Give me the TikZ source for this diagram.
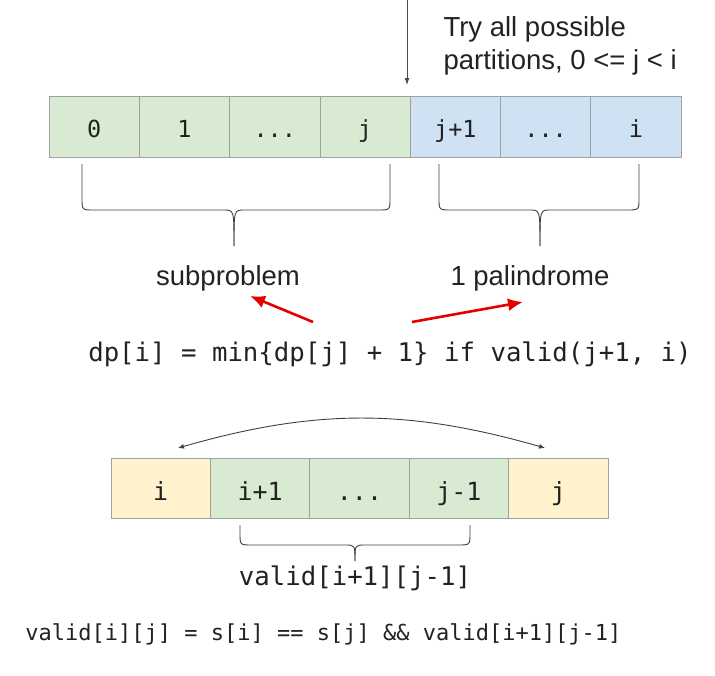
\documentclass[tikz,border=0pt]{standalone}
\usepackage{fontspec}
\setmainfont{Liberation Sans}
\setmonofont{DejaVu Sans Mono}
\usetikzlibrary{arrows.meta,positioning}

\definecolor{cellgreen}{HTML}{D9EAD3}
\definecolor{cellblue}{HTML}{CFE2F3}
\definecolor{cellyellow}{HTML}{FFF2CC}
\definecolor{cellline}{HTML}{A0A0A0}
\definecolor{ink}{HTML}{222222}

\newcommand{\celldots}{...}
% curly brace: x left, x right, x tip, y top, y middle, y tip
\newcommand{\curlybrace}[6]{%
	\draw[bracestyle] (#1,#4) -- (#1,{#5-12}) .. controls (#1,#5) .. ({#1+12},#5) -- ({#3-10},#5) .. controls (#3,#5) .. (#3,#6);
	\draw[bracestyle] (#2,#4) -- (#2,{#5-12}) .. controls (#2,#5) .. ({#2-12},#5) -- ({#3+10},#5) .. controls (#3,#5) .. (#3,#6);
}

\tikzset{
	cell/.style={draw=cellline, line width=0.8pt, minimum width=90.3pt, minimum height=61pt, inner sep=0pt, text height=22pt, text depth=0pt, text=ink, font=\fontsize{23.5}{24}\selectfont\ttfamily},
	lowcell/.style={cell, minimum width=99.4pt, minimum height=60pt, text height=24pt, font=\fontsize{25}{25}\selectfont\ttfamily},
	bracestyle/.style={draw=black!75, line width=0.9pt},
	sanstext/.style={text=ink, font=\fontsize{27.5}{33}\selectfont},
	monotext/.style={text=ink, font=\fontsize{25.7}{30}\selectfont\ttfamily},
	redarrow/.style={draw=red!90!black, line width=2.6pt, -{Latex[length=15pt,width=13pt]}},
}

\begin{document}
\begin{tikzpicture}[x=1pt,y=-1pt]
\useasboundingbox (0,0) rectangle (715,675);

% top row
\foreach \lab/\col [count=\k] in {0/cellgreen,1/cellgreen,\celldots/cellgreen,j/cellgreen,j+1/cellblue,\celldots/cellblue,i/cellblue} {%
	\node (top\k) [cell, fill=\col] at (3.85+90.3*\k,126.5) {\lab};
}

\coordinate (cuttop) at (407,0);
\coordinate (cutend) at (407,85);
\draw[draw=black!70, line width=0.9pt, -{Latex[length=7pt,width=5pt]}] (cuttop) -- (cutend);

\node (try) [sanstext, anchor=west, align=left] at (440,46) {Try all possible\\partitions, 0 <= j < i};

\curlybrace{82}{390}{234}{164}{210}{246}
\curlybrace{439}{639}{540}{164}{210}{246}

\node (sub) [sanstext] at (228,278) {subproblem};
\node (pal) [sanstext] at (530,278) {1 palindrome};

\node (dp) [monotext] at (390,354) {dp[i] = min\{dp[j] + 1\} if valid(j+1, i)};

\coordinate (subtail) at (313,322);
\coordinate (subtip) at (250,296);
\coordinate (paltail) at (412,322);
\coordinate (paltip) at (523,302);
\draw[redarrow] (subtail) -- (subtip);
\draw[redarrow] (paltail) -- (paltip);

% lower row
\foreach \lab/\col [count=\k] in {i/cellyellow,i+1/cellgreen,\celldots/cellgreen,j-1/cellgreen,j/cellyellow} {%
	\node (low\k) [lowcell, fill=\col] at (61.3+99.4*\k,488) {\lab};
}

\coordinate (endi) at (178,448);
\coordinate (endj) at (545,448);
\draw[draw=black!75, line width=0.9pt, {Latex[length=6pt,width=5pt]}-{Latex[length=6pt,width=5pt]}] (endi) to[bend left=16] (endj);

\curlybrace{240}{470}{355}{525}{545}{561}

\node (inner) [monotext] at (355,578) {valid[i+1][j-1]};

\node (rule) [monotext, font=\fontsize{22}{26}\selectfont\ttfamily] at (323.5,634) {valid[i][j] = s[i] == s[j] \&\& valid[i+1][j-1]};

\end{tikzpicture}
\end{document}
